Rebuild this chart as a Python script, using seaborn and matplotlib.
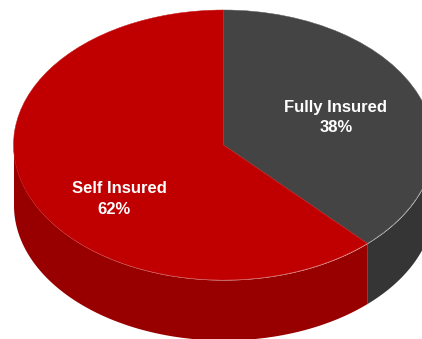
import numpy as np
import matplotlib
matplotlib.use("Agg")
import matplotlib.pyplot as plt
import seaborn as sns

# Funding mix shown on the pie
categories = ["Fully Insured", "Self Insured"]
shares = [38, 62]

top_colors = sns.color_palette(["#444444", "#C00000"])
wall_colors = sns.color_palette(["#353535", "#980000"])
rim_colors = ["#5E5E5E", "#C81E1E"]

sns.set_theme(style="white")
plt.rcParams["font.family"] = ["Liberation Sans", "DejaVu Sans"]

W, H = 422, 339
CX, CY = 223.5, 145.0   # disc centre, pixels
RX, RY = 210.0, 135.0   # disc radii, pixels
DEPTH = 60.0 / RY       # wall height, in disc-radius units

fig = plt.figure(figsize=(W / 100, H / 100), dpi=100)
ax = fig.add_axes([0, 0, 1, 1])

# Cylinder wall: one band per slice, limited to the front half of the disc
edges = np.cumsum([0] + shares) / sum(shares) * 2 * np.pi
for start, stop, colour in zip(edges[:-1], edges[1:], wall_colors):
    lo, hi = max(start, np.pi / 2), min(stop, 3 * np.pi / 2)
    if hi > lo:
        theta = np.linspace(lo, hi, 200)
        ax.fill_between(np.sin(theta), np.cos(theta), np.cos(theta) - DEPTH,
                        color=colour, linewidth=0)

# Top face; the axes limits stretch the circle into an ellipse
wedges, _ = ax.pie(shares, colors=top_colors, startangle=90, counterclock=False,
                   radius=1.0, wedgeprops={"linewidth": 0})
for wedge, rim in zip(wedges, rim_colors):
    wedge.set_edgecolor(rim)
    wedge.set_linewidth(0.35)

ax.set_aspect("auto")
ax.set_xlim(-CX / RX, (W - CX) / RX)
ax.set_ylim((CY - H) / RY, CY / RY)
ax.axis("off")

# Slice labels: name and percentage anchored separately, in pixel offsets from the disc centre
name_positions = [(336, 108), (119.5, 189)]
share_positions = [(336.5, 128), (114, 210)]
for name, share, (nx, ny), (sx, sy) in zip(categories, shares, name_positions, share_positions):
    ax.text((nx - CX) / RX, (CY - ny) / RY, name, color="white", fontsize=12,
            fontweight="bold", ha="center", va="center")
    ax.text((sx - CX) / RX, (CY - sy) / RY, f"{share}%", color="white", fontsize=12,
            fontweight="bold", ha="center", va="center")

fig.savefig("out.png", dpi=100, facecolor="white")
